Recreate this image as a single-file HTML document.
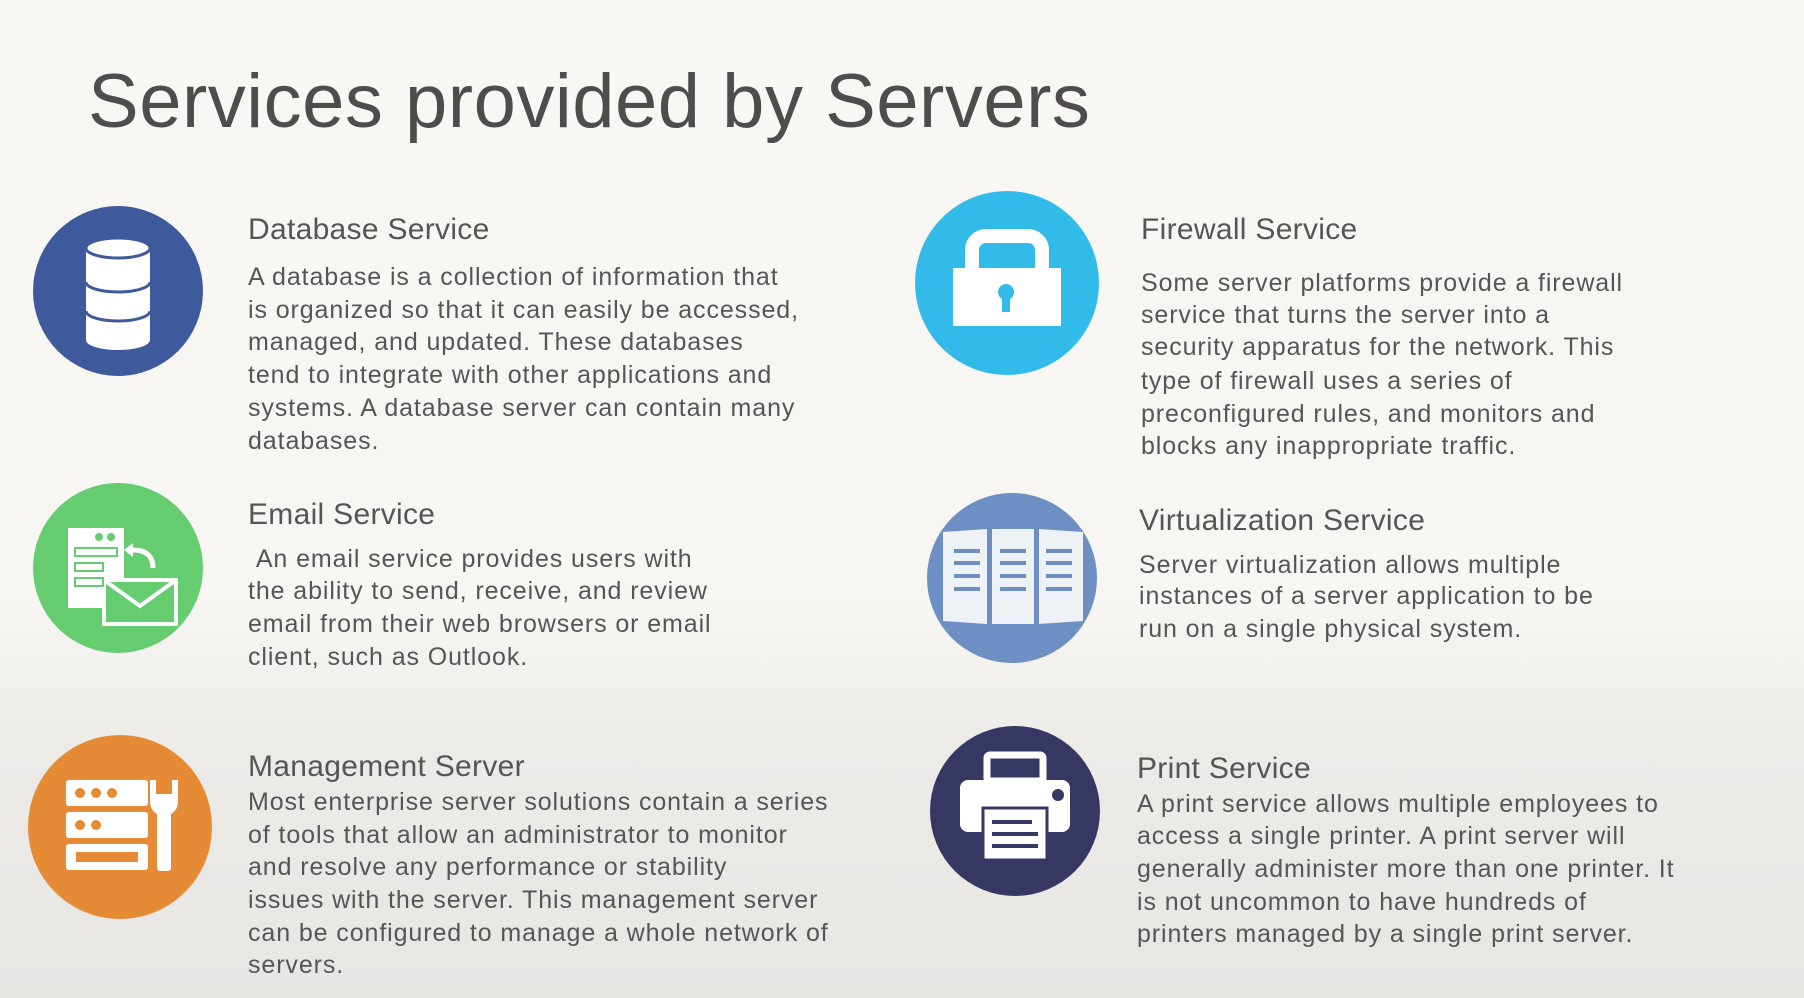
<!DOCTYPE html>
<html><head><meta charset="utf-8"><style>
html,body{margin:0;padding:0}
body{width:1804px;height:998px;position:relative;overflow:hidden;font-family:"Liberation Sans",sans-serif;background:linear-gradient(#f9f7f3 0%,#f8f6f2 60%,#edebe8 75%,#e8e6e3 100%)}
.t{position:absolute;white-space:nowrap;color:#555;font-size:25px;line-height:33px;letter-spacing:0.9px}
.h{position:absolute;white-space:nowrap;color:#555;font-size:30px;line-height:34px;letter-spacing:0.3px}
h1{position:absolute;left:88px;top:58px;margin:0;font-weight:normal;font-size:76px;color:#4d4d4d;letter-spacing:0.5px}
svg{position:absolute;left:0;top:0}
</style></head><body>
<h1>Services provided by Servers</h1>
<svg width="1804" height="998">
<circle cx="118" cy="291" r="85" fill="#3f5a9c"/>
<g fill="#fff" stroke="#3f5a9c" stroke-width="3">
<path d="M86 248 v92 a32 10 0 0 0 64 0 v-92 z" stroke="none"/>
<ellipse cx="118" cy="248" rx="32" ry="10"/>
<path d="M86 282 a32 10 0 0 0 64 0" fill="none"/>
<path d="M86 311 a32 10 0 0 0 64 0" fill="none"/>
</g>
<circle cx="118" cy="568" r="85" fill="#66cc70"/>
<g fill="none" stroke="#fff" stroke-width="4">
<rect x="68" y="528" width="56" height="80" fill="#fff" stroke="none"/>
<rect x="104" y="580" width="72" height="44" fill="#66cc70"/>
<path d="M104 580 l36 26 l36 -26"/>
<path d="M153 568 q0 -18 -20 -18" stroke-width="5"/>
</g>
<g fill="#66cc70"><circle cx="99" cy="537" r="4"/><circle cx="111" cy="537" r="4"/>
<rect x="75" y="548" width="42" height="8" fill="none" stroke="#66cc70" stroke-width="2"/>
<rect x="75" y="563" width="28" height="8" fill="none" stroke="#66cc70" stroke-width="2"/>
<rect x="75" y="578" width="28" height="8" fill="none" stroke="#66cc70" stroke-width="2"/>
<path d="M133 543 l-9 7 l9 7 z" fill="#fff"/></g>
<circle cx="120" cy="827" r="92" fill="#e58b36"/>
<g fill="#fff"><rect x="66" y="780" width="82" height="26" rx="3"/><rect x="66" y="812" width="82" height="26" rx="3"/><rect x="66" y="844" width="82" height="26" rx="3"/>
<rect x="157" y="805" width="14" height="66" rx="3"/><path d="M150 780 v22 a14 14 0 0 0 28 0 v-22 l-6 0 v14 h-16 v-14z"/></g>
<g fill="#e58b36"><circle cx="80" cy="793" r="5"/><circle cx="96" cy="793" r="5"/><circle cx="112" cy="793" r="5"/><circle cx="80" cy="825" r="5"/><circle cx="96" cy="825" r="5"/><rect x="76" y="852" width="62" height="10"/></g>
<circle cx="1007" cy="283" r="92" fill="#32bbe8"/>
<path d="M972 280 v-30 a14 14 0 0 1 14 -14 h42 a14 14 0 0 1 14 14 v30" fill="none" stroke="#fff" stroke-width="14"/>
<rect x="953" y="268" width="108" height="58" fill="#fff"/>
<circle cx="1006" cy="292" r="8" fill="#32bbe8"/><rect x="1002" y="294" width="8" height="18" fill="#32bbe8"/>
<circle cx="1012" cy="578" r="85" fill="#6d8fc3"/>
<g fill="#eef1f6"><path d="M943 532 l44 -3 v95 l-44 -3z"/><rect x="992" y="529" width="42" height="95"/><path d="M1039 529 l44 3 v89 l-44 3z"/></g>
<g stroke="#6d8fc3" stroke-width="4"><path d="M954 551h26M954 563h26M954 576h26M954 589h26M1000 551h26M1000 563h26M1000 576h26M1000 589h26M1046 551h26M1046 563h26M1046 576h26M1046 589h26"/></g>
<circle cx="1015" cy="811" r="85" fill="#363863"/>
<g fill="#fff"><rect x="987" y="755" width="56" height="26" rx="3" fill="none" stroke="#fff" stroke-width="7"/>
<rect x="960" y="780" width="110" height="52" rx="8"/><rect x="983" y="808" width="64" height="52"/></g>
<circle cx="1058" cy="795" r="6" fill="#363863"/>
<g stroke="#363863" stroke-width="4"><rect x="983" y="808" width="64" height="52" fill="#fff" stroke-width="3"/><path d="M992 822h40M992 834h46M992 846h46"/></g>
</svg>
<div class="h" style="left:248px;top:213px">Database Service</div>
<div class="t" style="left:248px;top:261px">A database is a collection of information that</div>
<div class="t" style="left:248px;top:294px">is organized so that it can easily be accessed,</div>
<div class="t" style="left:248px;top:326px">managed, and updated. These databases</div>
<div class="t" style="left:248px;top:359px">tend to integrate with other applications and</div>
<div class="t" style="left:248px;top:392px">systems. A database server can contain many</div>
<div class="t" style="left:248px;top:425px">databases.</div>
<div class="h" style="left:248px;top:498px">Email Service</div>
<div class="t" style="left:248px;top:543px">&nbsp;An email service provides users with</div>
<div class="t" style="left:248px;top:575px">the ability to send, receive, and review</div>
<div class="t" style="left:248px;top:608px">email from their web browsers or email</div>
<div class="t" style="left:248px;top:641px">client, such as Outlook.</div>
<div class="h" style="left:248px;top:750px">Management Server</div>
<div class="t" style="left:248px;top:786px">Most enterprise server solutions contain a series</div>
<div class="t" style="left:248px;top:819px">of tools that allow an administrator to monitor</div>
<div class="t" style="left:248px;top:851px">and resolve any performance or stability</div>
<div class="t" style="left:248px;top:884px">issues with the server. This management server</div>
<div class="t" style="left:248px;top:917px">can be configured to manage a whole network of</div>
<div class="t" style="left:248px;top:949px">servers.</div>
<div class="h" style="left:1141px;top:213px">Firewall Service</div>
<div class="t" style="left:1141px;top:267px">Some server platforms provide a firewall</div>
<div class="t" style="left:1141px;top:299px">service that turns the server into a</div>
<div class="t" style="left:1141px;top:331px">security apparatus for the network. This</div>
<div class="t" style="left:1141px;top:365px">type of firewall uses a series of</div>
<div class="t" style="left:1141px;top:398px">preconfigured rules, and monitors and</div>
<div class="t" style="left:1141px;top:430px">blocks any inappropriate traffic.</div>
<div class="h" style="left:1139px;top:504px">Virtualization Service</div>
<div class="t" style="left:1139px;top:549px">Server virtualization allows multiple</div>
<div class="t" style="left:1139px;top:580px">instances of a server application to be</div>
<div class="t" style="left:1139px;top:613px">run on a single physical system.</div>
<div class="h" style="left:1137px;top:752px">Print Service</div>
<div class="t" style="left:1137px;top:788px">A print service allows multiple employees to</div>
<div class="t" style="left:1137px;top:820px">access a single printer. A print server will</div>
<div class="t" style="left:1137px;top:853px">generally administer more than one printer. It</div>
<div class="t" style="left:1137px;top:886px">is not uncommon to have hundreds of</div>
<div class="t" style="left:1137px;top:918px">printers managed by a single print server.</div>
</body></html>
